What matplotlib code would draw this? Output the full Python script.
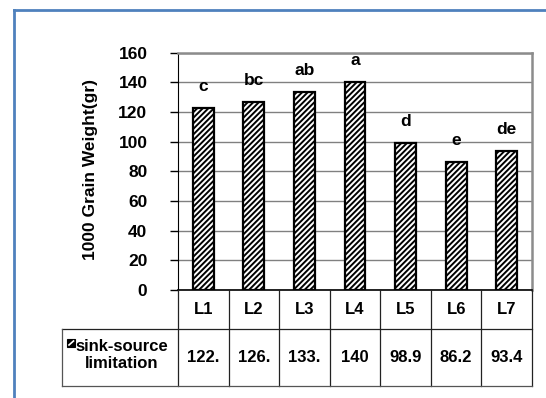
import matplotlib
matplotlib.use("Agg")
import matplotlib.pyplot as plt
from matplotlib.lines import Line2D
from matplotlib.patches import Rectangle

# ── data ──────────────────────────────────────────────────────────────
categories = ["L1", "L2", "L3", "L4", "L5", "L6", "L7"]
grain_wt   = [122.9, 126.8, 133.5, 140.0, 98.9, 86.2, 93.4]
letters    = ["c", "bc", "ab", "a", "d", "e", "de"]
series_name = "sink-source\nlimitation"
y_ticks    = [0, 20, 40, 60, 80, 100, 120, 140, 160]

plt.rcParams["font.family"] = ["Liberation Sans", "DejaVu Sans"]
plt.rcParams["font.weight"] = "bold"
plt.rcParams["hatch.linewidth"] = 1.4

W, H = 546, 398
def box(x0, y0, x1, y1):
    return [x0 / W, 1 - y1 / H, (x1 - x0) / W, (y1 - y0) / H]

fig = plt.figure(figsize=(W / 100, H / 100), dpi=100)

# outer blue frame (left + top only visible)
fig.add_artist(Line2D([14 / W, 14 / W], [0, 1 - 10 / H], color="#4F81BD", lw=2.0))
fig.add_artist(Line2D([14 / W, 1], [1 - 10 / H, 1 - 10 / H], color="#4F81BD", lw=2.0))

# ── main bar axes ─────────────────────────────────────────────────────
ax = fig.add_axes(box(178, 52.5, 532, 290))
x = list(range(len(categories)))
ax.bar(x, grain_wt, width=0.41, color="white", edgecolor="black",
       linewidth=1.6, hatch="//////", zorder=3)
for i, (v, t) in enumerate(zip(grain_wt, letters)):
    ax.text(i, v + 11.5, t, ha="center", va="baseline", fontsize=12.5,
            fontweight="bold")

ax.set_xlim(-0.5, len(categories) - 0.5)
ax.set_ylim(0, 160)
ax.set_yticks(y_ticks)
ax.set_yticklabels([str(t) for t in y_ticks], fontsize=12.5, fontweight="bold")
ax.tick_params(axis="y", length=6, width=1, pad=16, direction="out")
ax.set_xticks([])
ax.grid(axis="y", color="#808080", lw=1.0, zorder=0)
ax.spines["left"].set_color("black")
ax.spines["bottom"].set_color("black")
ax.spines["bottom"].set_linewidth(1.2)
for s in ("top", "right"):
    ax.spines[s].set_color("#8c8c8c")
    ax.spines[s].set_linewidth(1.8)

fig.text(90 / W, 1 - 170 / H, "1000 Grain Weight(gr)", rotation=90,
         ha="center", va="center", fontsize=12.5, fontweight="bold")

# ── data table below axis ─────────────────────────────────────────────
tb = fig.add_axes(box(62, 290, 532, 387))
tb.axis("off")
col_w = (532 - 178) / len(categories)
left = -0.5 - (178 - 62) / col_w
tb.set_xlim(left, len(categories) - 0.5)
tb.set_ylim(387, 290)
lc = dict(color="#222222", lw=0.9, clip_on=False)
for k in range(len(categories) + 1):
    tb.plot([k - 0.5, k - 0.5], [290, 386], **lc)
tb.plot([left, len(categories) - 0.5], [329, 329], **lc)
tb.plot([left, len(categories) - 0.5], [386, 386], color="#555555", lw=0.9,
        clip_on=False)
tb.plot([left, left], [329, 386], color="#555555", lw=0.9, clip_on=False)

for i, c in enumerate(categories):
    tb.text(i, 310, c, ha="center", va="center", fontsize=12, fontweight="bold")
    tb.text(i, 357.5, f"{grain_wt[i]:g}"[:4], ha="center", va="center",
            fontsize=12, fontweight="bold")

# legend key: small hatched square
tb.add_patch(Rectangle((left + 5 / col_w, 339), 8 / col_w, 8, facecolor="black",
                       edgecolor="black", lw=0.8, clip_on=False))
tb.plot([left + 7 / col_w, left + 11.5 / col_w], [345, 341], color="white",
        lw=1.2, clip_on=False)
tb.text(left + 13.5 / col_w, 355, series_name, ha="left", va="center",
        fontsize=12, fontweight="bold", multialignment="center",
        linespacing=1.1)

fig.savefig("out.png", dpi=100)
